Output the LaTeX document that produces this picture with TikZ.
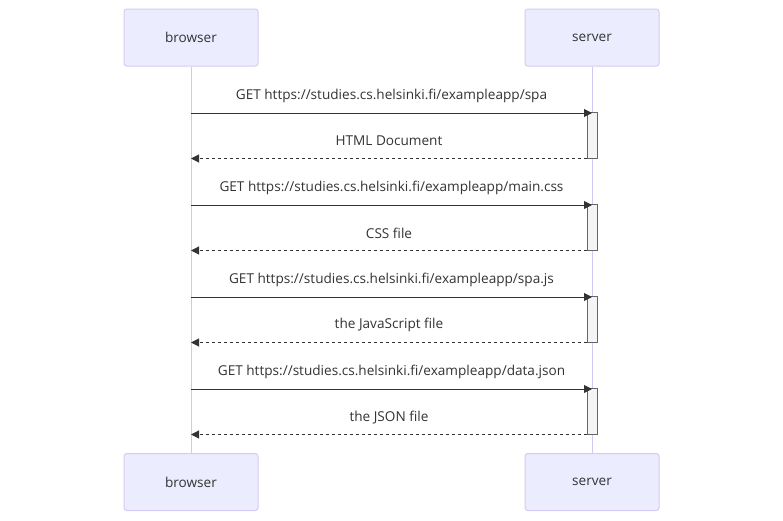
\documentclass[tikz,border=0pt]{standalone}
\usepackage{fontspec}
\setmainfont{Open Sans}
\usetikzlibrary{arrows.meta,positioning,calc}
\definecolor{actorfill}{HTML}{ECECFF}
\definecolor{actorline}{HTML}{D4CCF2}
\definecolor{lifeline}{HTML}{D0C8F4}
\definecolor{txt}{HTML}{333333}
\definecolor{actfill}{HTML}{F4F4F4}
\definecolor{actline}{HTML}{666666}

\begin{document}
\begin{tikzpicture}[x=0.75pt, y=-0.75pt,
    font=\fontsize{10.2}{12}\selectfont, text=txt,
    actor/.style={draw=actorline, fill=actorfill, rounded corners=2pt,
        minimum width=100.5pt, minimum height=42.75pt, line width=0.75pt},
    msg/.style={draw=txt, line width=0.75pt, -{Triangle[length=6pt, width=6pt]}},
    reply/.style={msg, dash pattern=on 2.25pt off 2.25pt},
    activation/.style={draw=actline, fill=actfill, line width=0.75pt},
    msglabel/.style={midway, yshift=13pt}]
        \useasboundingbox (0,0) rectangle (783,521);
        % Actors
        \node [actor] (browser) at (191,37.5) {browser};
        \node [actor] (server) at (592,37.5) {server};
        \node [actor] (browserb) at (191,482) {browser};
        \node [actor] (serverb) at (592,482) {server};
        % Lifelines
        \draw [lifeline, line width=0.75pt] (browser.south) -- (browserb.north);
        \draw [lifeline, line width=0.75pt] (server.south) -- (serverb.north);
        % Requests and replies
        \foreach \i/\req/\res in {
            1/{GET https://studies.cs.helsinki.fi/exampleapp/spa}/{HTML Document},
            2/{GET https://studies.cs.helsinki.fi/exampleapp/main.css}/{CSS file},
            3/{GET https://studies.cs.helsinki.fi/exampleapp/spa.js}/{the JavaScript file},
            4/{GET https://studies.cs.helsinki.fi/exampleapp/data.json}/{the JSON file}} {
            \pgfmathsetmacro{\yq}{113+92*(\i-1)}
            \pgfmathsetmacro{\yr}{158.5+92*(\i-1)}
            \coordinate (bq\i) at (191,\yq);
            \coordinate (sq\i) at (592,\yq);
            \coordinate (sr\i) at (587,\yr);
            \coordinate (br\i) at (191,\yr);
            \draw [activation] (587,\yq-1) rectangle (597,\yr);
            \draw [msg] (bq\i) -- (sq\i) node [msglabel] {\req};
            \draw [reply] (sr\i) -- (br\i) node [msglabel] {\res};
        }
\end{tikzpicture}
\end{document}
